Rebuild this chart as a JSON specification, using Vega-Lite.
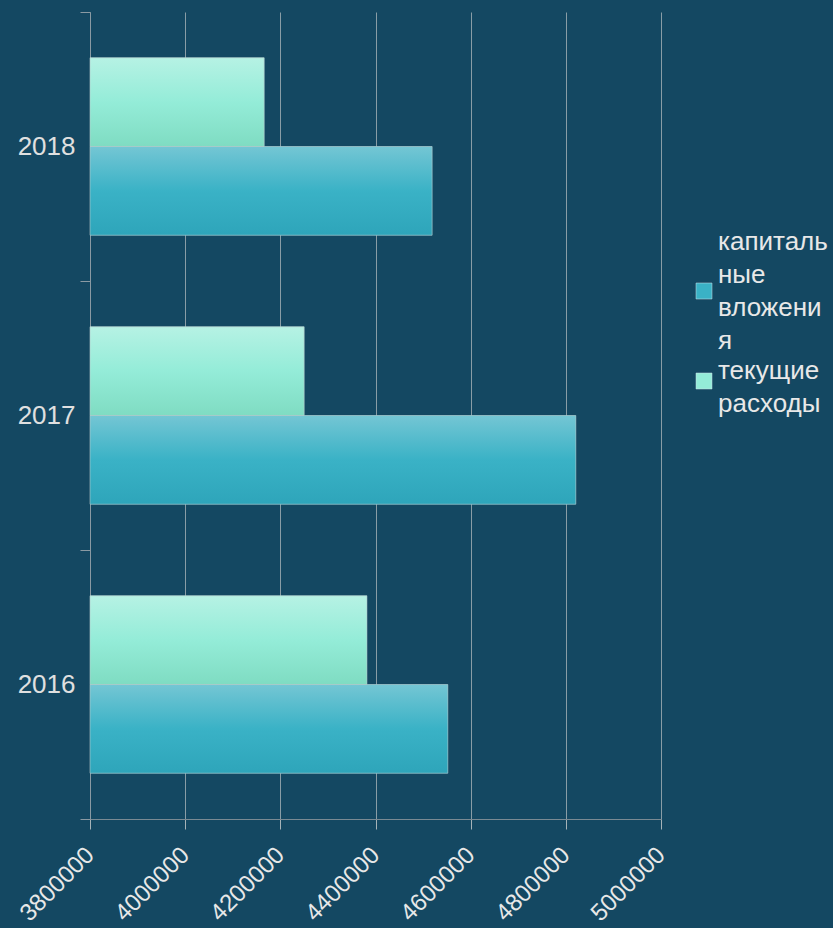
{
  "$schema": "https://vega.github.io/schema/vega-lite/v6.json",
  "width": 571,
  "height": 807,
  "autosize": {"type": "none"},
  "padding": {"left": 90, "top": 12, "right": 172, "bottom": 109},
  "background": "#144862",
  "config": {"view": {"stroke": null}, "font": "Liberation Sans"},
  "data": {
    "values": [
      {"year": "2018", "type": "капитальные вложения", "value": 4519000},
      {"year": "2018", "type": "текущие расходы", "value": 4166000},
      {"year": "2017", "type": "капитальные вложения", "value": 4821000},
      {"year": "2017", "type": "текущие расходы", "value": 4250000},
      {"year": "2016", "type": "капитальные вложения", "value": 4552000},
      {"year": "2016", "type": "текущие расходы", "value": 4382000}
    ]
  },
  "encoding": {
    "y": {
      "field": "year",
      "type": "nominal",
      "sort": "descending",
      "scale": {"paddingInner": 0, "paddingOuter": 0},
      "axis": {
        "title": null,
        "domainColor": "#8a9aa3",
        "tickColor": "#8a9aa3",
        "tickSize": 10,
        "tickBand": "extent",
        "labelFontSize": 26,
        "labelColor": "#e0e0e0",
        "labelPadding": 5,
        "grid": false
      }
    },
    "yOffset": {
      "field": "type",
      "scale": {"domain": ["текущие расходы", "капитальные вложения"], "paddingInner": 0, "paddingOuter": 0.5155}
    },
    "x": {
      "field": "value",
      "type": "quantitative",
      "scale": {"domain": [3800000, 5000000], "nice": false, "zero": false},
      "axis": {
        "title": null,
        "values": [3800000, 4000000, 4200000, 4400000, 4600000, 4800000, 5000000],
        "format": "d",
        "labelAngle": -45,
        "labelAlign": "right",
        "labelBaseline": "middle",
        "labelFontSize": 24,
        "labelColor": "#e8e8e8",
        "labelPadding": 22,
        "labelDx": -2.8,
        "labelDy": -2.8,
        "grid": true,
        "gridColor": "#a6b3b8",
        "gridOpacity": 0.8,
        "domainColor": "#7a8a93",
        "tickColor": "#a6b3b8",
        "tickSize": 10
      }
    },
    "x2": {"datum": 3800000}
  },
  "layer": [
    {
      "mark": {"type": "bar"},
      "encoding": {
        "color": {
          "field": "type",
          "type": "nominal",
          "scale": {
            "domain": ["капитальные вложения", "текущие расходы"],
            "range": ["#3ab2c6", "#94ecd8"]
          },
          "legend": {
            "title": null,
            "orient": "none",
            "legendX": 601,
            "legendY": 266,
            "symbolType": "square",
            "symbolSize": 256,
            "symbolOpacity": 1,
            "symbolStrokeColor": "#cfe3e8",
            "symbolStrokeWidth": 0.5,
            "labelFontSize": 26,
            "labelColor": "#e8e8e8",
            "labelLimit": 300,
            "labelOffset": 1,
            "rowPadding": 4,
            "labelExpr": "datum.label == 'капитальные вложения' ? ['капиталь', 'ные', 'вложени', 'я'] : ['текущие', 'расходы']",
            "encode": {
              "labels": {
                "update": {
                  "lineHeight": {"value": 33},
                  "dy": {"signal": "datum.label === 'капитальные вложения' ? -49.5 : -10"}
                }
              }
            }
          }
        }
      }
    },
    {
      "mark": {"type": "bar", "stroke": "#b8c8cc", "strokeWidth": 1, "strokeOpacity": 0.6},
      "encoding": {
        "fill": {
          "condition": {
            "test": "datum.type === 'капитальные вложения'",
            "value": {
              "gradient": "linear", "x1": 0, "y1": 0, "x2": 0, "y2": 1,
              "stops": [
                {"offset": 0, "color": "#74c6d4"},
                {"offset": 0.5, "color": "#3ab2c6"},
                {"offset": 1, "color": "#2ea5ba"}
              ]
            }
          },
          "value": {
            "gradient": "linear", "x1": 0, "y1": 0, "x2": 0, "y2": 1,
            "stops": [
              {"offset": 0, "color": "#b6f2e4"},
              {"offset": 0.5, "color": "#94ecd8"},
              {"offset": 1, "color": "#7fdcc2"}
            ]
          }
        }
      }
    }
  ]
}
